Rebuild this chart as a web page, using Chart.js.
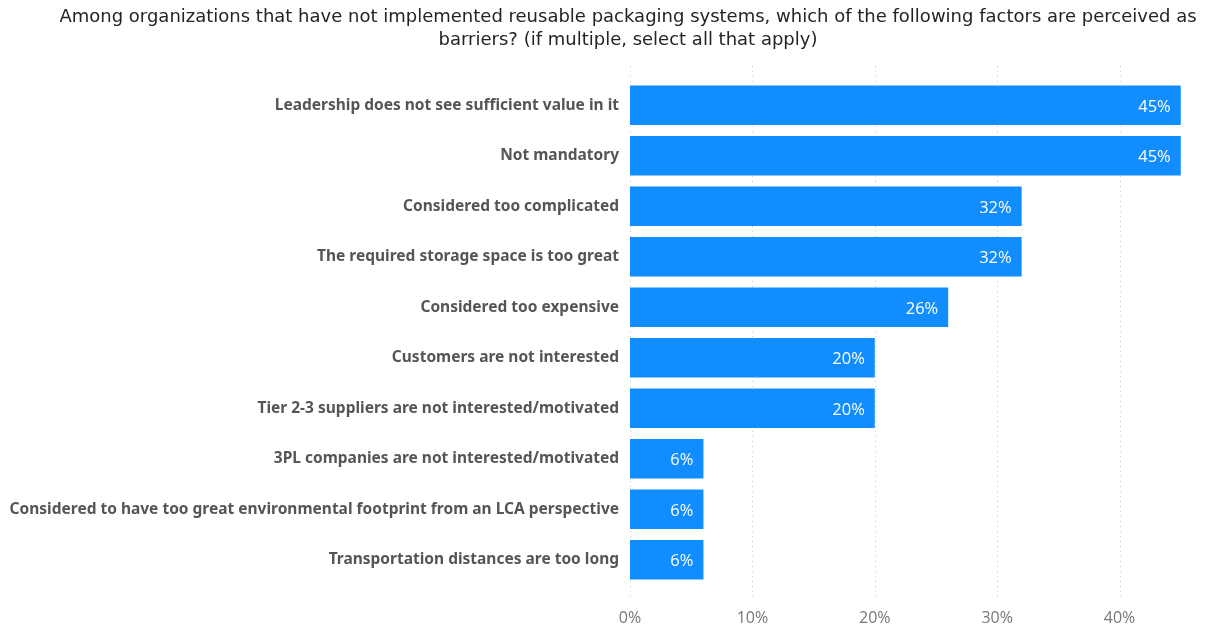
<!DOCTYPE html>
<html>
<head>
<meta charset="utf-8">
<script src="https://cdn.jsdelivr.net/npm/chart.js@4"></script>
<style>
  html, body { margin: 0; padding: 0; background: #fff; }
  #wrap { width: 1215px; height: 628px; }
</style>
</head>
<body>
<div id="wrap"><canvas id="barrierChart" width="1215" height="628"></canvas></div>
<script>
/* Chart data */
const categories = [
    "Leadership does not see sufficient value in it",
    "Not mandatory",
    "Considered too complicated",
    "The required storage space is too great",
    "Considered too expensive",
    "Customers are not interested",
    "Tier 2-3 suppliers are not interested/motivated",
    "3PL companies are not interested/motivated",
    "Considered to have too great environmental footprint from an LCA perspective",
    "Transportation distances are too long",
];
const shares = [45, 45, 32, 32, 26, 20, 20, 6, 6, 6];
const tickValues = [0, 10, 20, 30, 40];
const titleLines = [
    "Among organizations that have not implemented reusable packaging systems, which of the following factors are perceived as",
    "barriers? (if multiple, select all that apply)",
];

const BAR_COLOR = "#118DFF";
const LABEL_FONT = "'Open Sans', 'Noto Sans', sans-serif";

/* Title, drawn above the plot */
const titlePlugin = {
    id: "titleLines",
    afterDraw(chart) {
        const ctx = chart.ctx;
        ctx.save();
        ctx.fillStyle = "#252423";
        ctx.font = "18px 'DejaVu Sans', sans-serif";
        ctx.textAlign = "center";
        ctx.textBaseline = "middle";
        titleLines.forEach((line, i) => ctx.fillText(line, 628, 17 + i * 23));
        ctx.restore();
    }
};

/* Dotted vertical gridlines */
const dottedGrid = {
    id: "dottedGrid",
    beforeDatasetsDraw(chart) {
        const ctx = chart.ctx;
        const x = chart.scales.x;
        ctx.save();
        ctx.strokeStyle = "#c8c8c8";
        ctx.lineWidth = 1;
        ctx.setLineDash([1, 4]);
        x.ticks.forEach(t => {
            const px = Math.round(x.getPixelForValue(t.value)) + 0.5;
            ctx.beginPath();
            ctx.moveTo(px, 66);
            ctx.lineTo(px, 597);
            ctx.stroke();
        });
        ctx.restore();
    }
};

/* Value labels inside the end of each bar */
const valueLabels = {
    id: "valueLabels",
    afterDatasetsDraw(chart) {
        const ctx = chart.ctx;
        const meta = chart.getDatasetMeta(0);
        ctx.save();
        ctx.fillStyle = "#ffffff";
        ctx.font = "16.5px " + LABEL_FONT;
        ctx.textAlign = "right";
        ctx.textBaseline = "middle";
        meta.data.forEach((bar, i) => {
            ctx.fillText(shares[i] + "%", bar.x - 10, bar.y + 2);
        });
        ctx.restore();
    }
};

new Chart(document.getElementById("barrierChart"), {
    type: "bar",
    data: {
        labels: categories,
        datasets: [{
            data: shares,
            backgroundColor: BAR_COLOR,
            borderWidth: 0,
            barPercentage: 0.78,
            categoryPercentage: 1,
        }]
    },
    options: {
        indexAxis: "y",
        responsive: false,
        animation: false,
        layout: {
            padding: { top: 80, right: 22, left: 0, bottom: 0 }
        },
        plugins: {
            legend: { display: false },
            title: { display: false },
            tooltip: { enabled: false }
        },
        scales: {
            x: {
                min: 0,
                max: 46,
                afterBuildTicks: (scale) => {
                    scale.ticks = tickValues.map(v => ({ value: v }));
                },
                afterFit: (scale) => { scale.height = 43; },
                grid: { display: false, drawTicks: false },
                border: { display: false },
                ticks: {
                    padding: 24,
                    color: "#777777",
                    font: { family: LABEL_FONT, size: 16 },
                    callback: (v) => v + "%"
                }
            },
            y: {
                afterFit: (scale) => { scale.width = 630; },
                grid: { display: false, drawTicks: false },
                border: { display: false },
                ticks: {
                    padding: 11,
                    color: "#555555",
                    font: { family: "'Noto Sans', sans-serif", size: 15.5, weight: "bold" }
                }
            }
        }
    },
    plugins: [dottedGrid, valueLabels, titlePlugin]
});
</script>
</body>
</html>
